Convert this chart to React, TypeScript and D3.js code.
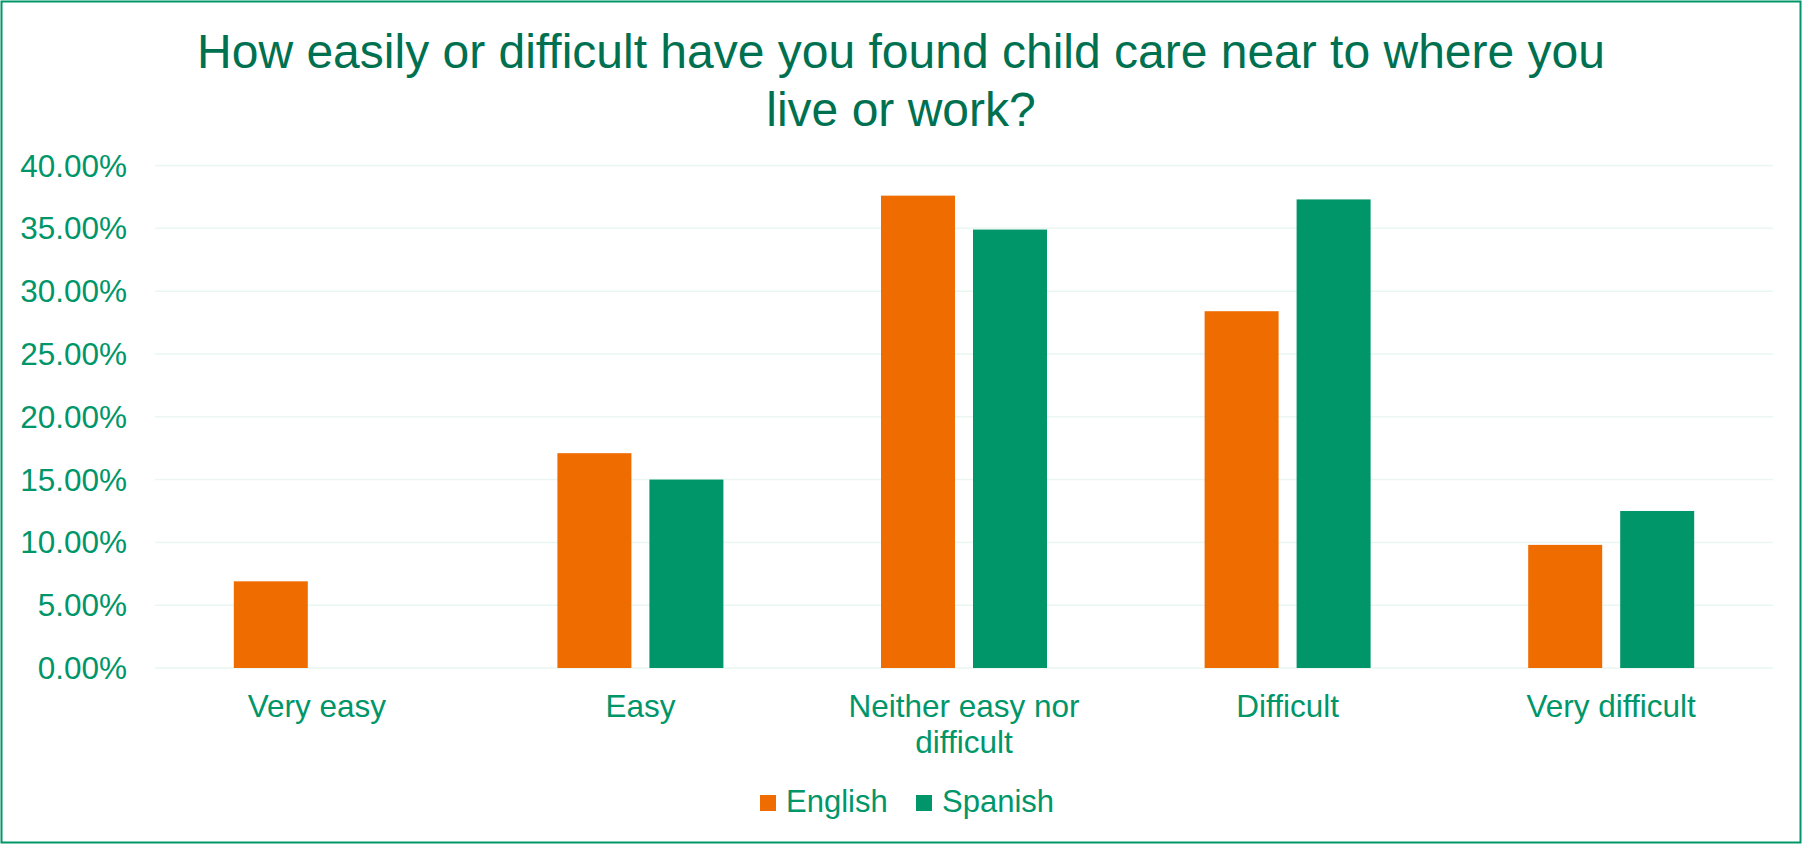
import React from "react";
import * as d3 from "d3";

const categories = ["Very easy", "Easy", "Neither easy nor difficult", "Difficult", "Very difficult"];
const categoryLines = [["Very easy"], ["Easy"], ["Neither easy nor", "difficult"], ["Difficult"], ["Very difficult"]];
const seriesNames = ["English", "Spanish"];
const english = [6.9, 17.1, 37.6, 28.4, 9.8];
const spanish = [0, 15.0, 34.9, 37.3, 12.5];
const yTicks = [0, 5, 10, 15, 20, 25, 30, 35, 40];
const titleLines = ["How easily or difficult have you found child care near to where you", "live or work?"];

const W = 1802;
const H = 844;
const FONT = "'Liberation Sans', Arial, Helvetica, sans-serif";
const COLORS = ["#EF6C00", "#009669"];
const TEXT = "#009669";
const TITLE = "#007150";

export default function App() {
  const x = d3.scaleBand<string>().domain(categories).range([155, 1773]).paddingInner(0).paddingOuter(0);
  const y = d3.scaleLinear().domain([0, 40]).range([668, 165.5]);
  const values = [english, spanish];
  const groupW = 166;
  const xs = d3.scaleBand<string>().domain(seriesNames).range([0, groupW]).paddingInner(18 / 92).paddingOuter(0);

  return (
    <div>
      <style>{"body{margin:0;}"}</style>
      <svg width={W} height={H} style={{ display: "block", fontFamily: FONT }}>
        <rect x={0} y={0} width={W} height={H} fill="#fff" />
        <rect x={1.5} y={1.5} width={W - 3} height={H - 3} fill="none" stroke="#009669" strokeWidth={2} />
        {titleLines.map((t, i) => (
          <text key={i} x={901} y={68 + i * 58} textAnchor="middle" fontSize={48} fill={TITLE}>
            {t}
          </text>
        ))}
        {yTicks.map((t) => (
          <g key={t}>
            <line x1={155} x2={1773} y1={y(t)} y2={y(t)} stroke="#EAF7F1" strokeWidth={1.5} />
            <text x={127} y={y(t) + 11} textAnchor="end" fontSize={31.5} fill={TEXT}>
              {t.toFixed(2) + "%"}
            </text>
          </g>
        ))}
        {categories.map((c, ci) => {
          const cx = (x(c) as number) + x.bandwidth() / 2;
          const g0 = cx - groupW / 2;
          return (
            <g key={c}>
              {seriesNames.map((s, si) => {
                const v = values[si][ci];
                if (v <= 0) return null;
                return (
                  <rect
                    key={s}
                    x={g0 + (xs(s) as number)}
                    y={y(v)}
                    width={xs.bandwidth()}
                    height={y(0) - y(v)}
                    fill={COLORS[si]}
                  />
                );
              })}
              {categoryLines[ci].map((line, li) => (
                <text key={li} x={cx} y={717 + li * 36} textAnchor="middle" fontSize={31.5} fill={TEXT}>
                  {line}
                </text>
              ))}
            </g>
          );
        })}
        {seriesNames.map((s, si) => {
          const lx = [760, 916][si];
          return (
            <g key={s}>
              <rect x={lx} y={795} width={16} height={16} fill={COLORS[si]} />
              <text x={lx + 26} y={812} fontSize={31} fill={TEXT}>
                {s}
              </text>
            </g>
          );
        })}
      </svg>
    </div>
  );
}
